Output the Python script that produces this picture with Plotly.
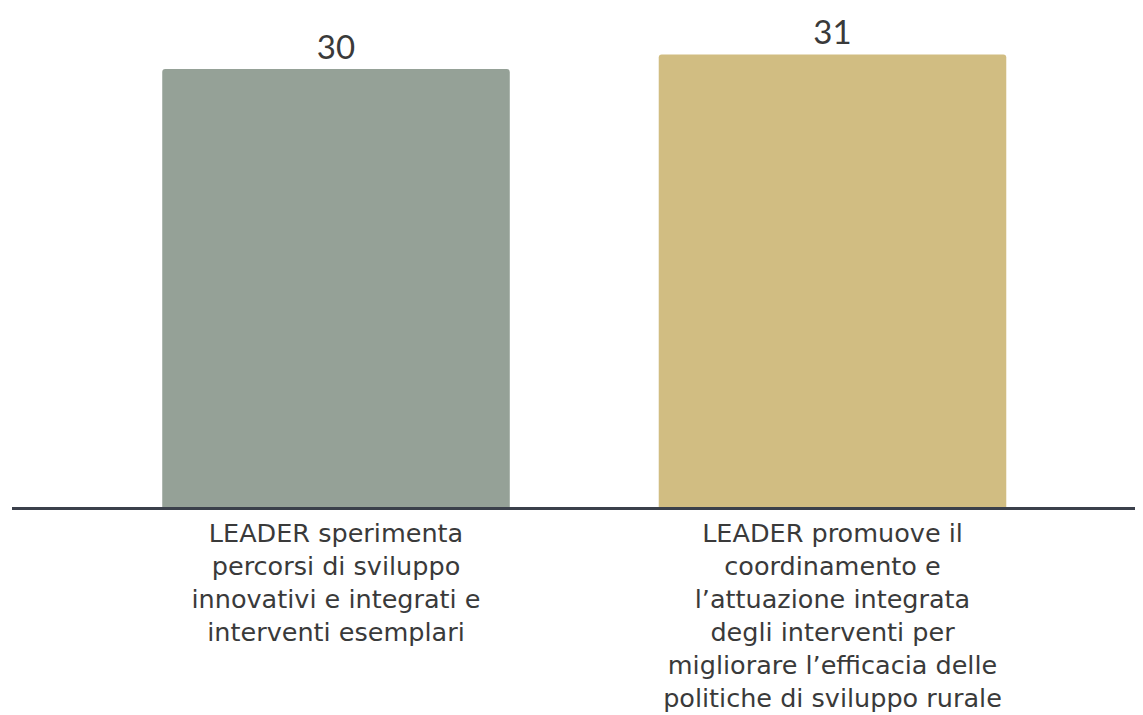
import plotly.graph_objects as go

categories = [
    "LEADER sperimenta<br>percorsi di sviluppo<br>innovativi e integrati e<br>interventi esemplari",
    "LEADER promuove il<br>coordinamento e<br>l’attuazione integrata<br>degli interventi per<br>migliorare l’efficacia delle<br>politiche di sviluppo rurale",
]
values = [30, 31]
colors = ["#95A197", "#D1BD82"]

fig = go.Figure(
    go.Bar(
        x=categories,
        y=values,
        marker=dict(color=colors, line=dict(width=0), cornerradius=3),
        text=[str(v) for v in values],
        textposition="outside",
        textfont=dict(size=33, color="#3a3a3a", family="Lato, sans-serif"),
        cliponaxis=False,
        hoverinfo="skip",
    )
)

fig.update_layout(
    width=1135,
    height=707,
    margin=dict(l=4, r=0, t=12, b=208),
    paper_bgcolor="white",
    plot_bgcolor="white",
    bargap=0.3,
    showlegend=False,
    font=dict(family="Lato, sans-serif", color="#3a3a3a"),
)
fig.update_xaxes(
    range=[-0.6526, 1.6254],
    showline=True,
    linecolor="#3b404b",
    linewidth=3,
    showgrid=False,
    ticks="outside",
    ticklen=1,
    tickcolor="rgba(0,0,0,0)",
    tickfont=dict(size=25.5, color="#3a3a3a", family="DejaVu Sans, sans-serif"),
)
fig.update_yaxes(
    range=[0, 33.36],
    showgrid=False,
    showticklabels=False,
    zeroline=False,
    showline=False,
)

fig.write_html("out.html")
